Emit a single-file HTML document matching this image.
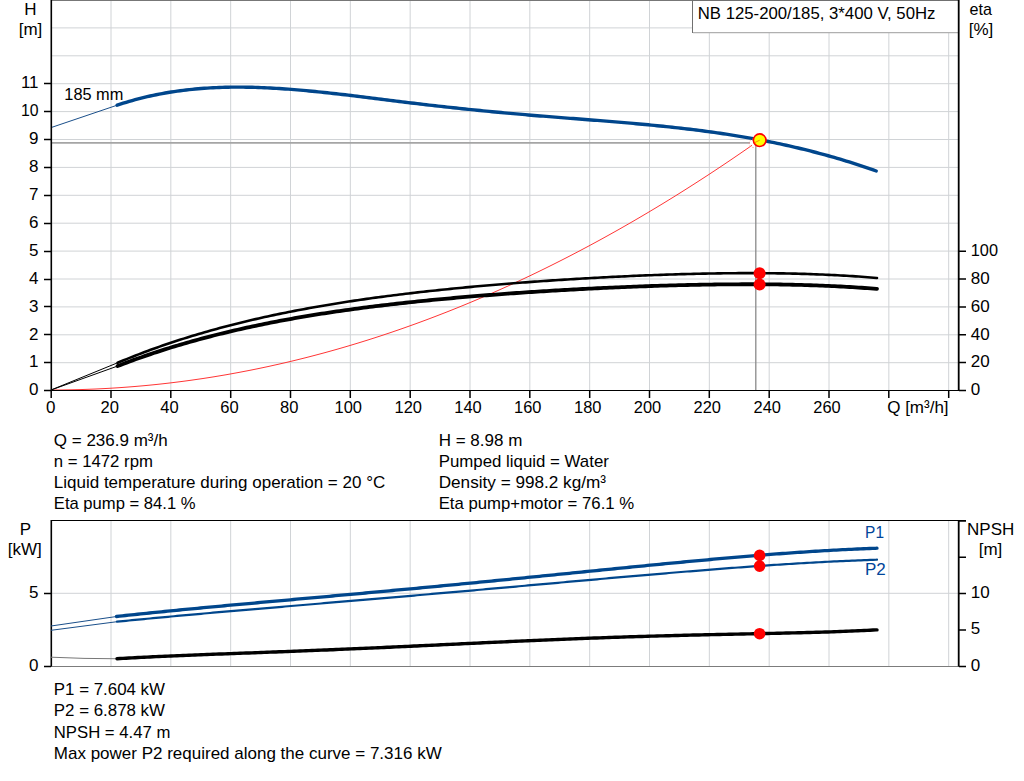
<!DOCTYPE html><html><head><meta charset="utf-8"><style>html,body{margin:0;padding:0;background:#fff;overflow:hidden}svg{display:block}text{font-family:"Liberation Sans",sans-serif;font-size:17px;fill:#000}</style></head><body>
<svg width="1024" height="781" viewBox="0 0 1024 781">
<rect width="1024" height="781" fill="#fff"/>
<path d="M111.00,0V390 M170.84,0V390 M230.67,0V390 M290.51,0V390 M350.34,0V390 M410.17,0V390 M470.01,0V390 M529.84,0V390 M589.68,0V390 M649.51,0V390 M709.34,0V390 M769.18,0V390 M829.01,0V390 M888.85,0V390 M948.68,0V390" stroke="#d0d3d6" stroke-width="1" fill="none"/>
<path d="M52,362.70H958 M52,334.80H958 M52,306.90H958 M52,279.00H958 M52,251.10H958 M52,223.20H958 M52,195.30H958 M52,167.40H958 M52,139.50H958 M52,111.60H958 M52,83.70H958 M52,55.80H958 M52,27.90H958" stroke="#d0d3d6" stroke-width="1" fill="none"/>
<path d="M111.00,521V666 M170.84,521V666 M230.67,521V666 M290.51,521V666 M350.34,521V666 M410.17,521V666 M470.01,521V666 M529.84,521V666 M589.68,521V666 M649.51,521V666 M709.34,521V666 M769.18,521V666 M829.01,521V666 M888.85,521V666 M948.68,521V666" stroke="#d0d3d6" stroke-width="1" fill="none"/>
<path d="M52,593.3H958" stroke="#d0d3d6" stroke-width="1" fill="none"/>
<path d="M51,0.5H959" stroke="#777" stroke-width="1"/>
<rect x="692.5" y="0.5" width="266" height="32" fill="#fff" stroke="#707070" stroke-width="1"/>
<path d="M693,32.6H958" stroke="#b0b0b0" stroke-width="1.2"/>
<path d="M51,142.9H750" stroke="#a5a5a5" stroke-width="1.6"/>
<path d="M755.8,145V390" stroke="#8a8a8a" stroke-width="1.3"/>
<path d="M51.0,390.00 L55.0,389.99 L59.0,389.97 L63.0,389.93 L67.0,389.87 L71.0,389.80 L75.0,389.71 L79.0,389.61 L83.0,389.49 L87.0,389.35 L91.0,389.20 L95.0,389.04 L99.0,388.85 L103.0,388.65 L107.0,388.44 L111.0,388.21 L115.0,387.96 L119.0,387.70 L123.0,387.42 L127.0,387.12 L131.0,386.81 L135.0,386.49 L139.0,386.14 L143.0,385.79 L147.0,385.41 L151.0,385.02 L155.0,384.61 L159.0,384.19 L163.0,383.75 L167.0,383.30 L171.0,382.83 L175.0,382.34 L179.0,381.84 L183.0,381.32 L187.0,380.79 L191.0,380.24 L195.0,379.67 L199.0,379.09 L203.0,378.50 L207.0,377.88 L211.0,377.25 L215.0,376.61 L219.0,375.95 L223.0,375.27 L227.0,374.58 L231.0,373.87 L235.0,373.14 L239.0,372.40 L243.0,371.64 L247.0,370.87 L251.0,370.08 L255.0,369.28 L259.0,368.46 L263.0,367.62 L267.0,366.77 L271.0,365.90 L275.0,365.01 L279.0,364.11 L283.0,363.20 L287.0,362.27 L291.0,361.32 L295.0,360.35 L299.0,359.37 L303.0,358.38 L307.0,357.37 L311.0,356.34 L315.0,355.29 L319.0,354.23 L323.0,353.16 L327.0,352.07 L331.0,350.96 L335.0,349.84 L339.0,348.70 L343.0,347.54 L347.0,346.37 L351.0,345.18 L355.0,343.98 L359.0,342.76 L363.0,341.53 L367.0,340.28 L371.0,339.01 L375.0,337.73 L379.0,336.43 L383.0,335.11 L387.0,333.78 L391.0,332.44 L395.0,331.07 L399.0,329.69 L403.0,328.30 L407.0,326.89 L411.0,325.46 L415.0,324.02 L419.0,322.56 L423.0,321.09 L427.0,319.60 L431.0,318.09 L435.0,316.57 L439.0,315.03 L443.0,313.48 L447.0,311.91 L451.0,310.33 L455.0,308.72 L459.0,307.11 L463.0,305.47 L467.0,303.82 L471.0,302.16 L475.0,300.48 L479.0,298.78 L483.0,297.07 L487.0,295.34 L491.0,293.59 L495.0,291.83 L499.0,290.06 L503.0,288.26 L507.0,286.46 L511.0,284.63 L515.0,282.79 L519.0,280.93 L523.0,279.06 L527.0,277.17 L531.0,275.27 L535.0,273.35 L539.0,271.41 L543.0,269.46 L547.0,267.49 L551.0,265.51 L555.0,263.51 L559.0,261.49 L563.0,259.46 L567.0,257.41 L571.0,255.35 L575.0,253.27 L579.0,251.18 L583.0,249.06 L587.0,246.94 L591.0,244.79 L595.0,242.63 L599.0,240.46 L603.0,238.27 L607.0,236.06 L611.0,233.84 L615.0,231.60 L619.0,229.35 L623.0,227.07 L627.0,224.79 L631.0,222.49 L635.0,220.17 L639.0,217.83 L643.0,215.48 L647.0,213.12 L651.0,210.73 L655.0,208.34 L659.0,205.92 L663.0,203.49 L667.0,201.04 L671.0,198.58 L675.0,196.11 L679.0,193.61 L683.0,191.10 L687.0,188.58 L691.0,186.03 L695.0,183.48 L699.0,180.90 L703.0,178.31 L707.0,175.71 L711.0,173.09 L715.0,170.45 L719.0,167.80 L723.0,165.13 L727.0,162.44 L731.0,159.74 L735.0,157.03 L739.0,154.29 L743.0,151.54 L747.0,148.78 L751.0,146.00 L752.0,145.30" stroke="#ff2a2a" stroke-width="0.95" fill="none"/>
<path d="M51,390L117.6,362.79" stroke="#000" stroke-width="1" fill="none"/>
<path d="M51,390L117.6,366.06" stroke="#000" stroke-width="1" fill="none"/>
<path d="M117.6,362.79 L120.6,361.54 L123.6,360.30 L126.6,359.08 L129.6,357.87 L132.6,356.68 L135.6,355.50 L138.6,354.34 L141.6,353.20 L144.6,352.06 L147.6,350.95 L150.6,349.84 L153.6,348.76 L156.6,347.68 L159.6,346.62 L162.6,345.57 L165.6,344.54 L168.6,343.52 L171.6,342.51 L174.6,341.52 L177.6,340.54 L180.6,339.57 L183.6,338.62 L186.6,337.67 L189.6,336.74 L192.6,335.83 L195.6,334.92 L198.6,334.03 L201.6,333.14 L204.6,332.27 L207.6,331.41 L210.6,330.56 L213.6,329.73 L216.6,328.90 L219.6,328.09 L222.6,327.28 L225.6,326.49 L228.6,325.71 L231.6,324.93 L234.6,324.17 L237.6,323.42 L240.6,322.68 L243.6,321.94 L246.6,321.22 L249.6,320.51 L252.6,319.80 L255.6,319.11 L258.6,318.42 L261.6,317.75 L264.6,317.08 L267.6,316.42 L270.6,315.77 L273.6,315.13 L276.6,314.50 L279.6,313.87 L282.6,313.26 L285.6,312.65 L288.6,312.05 L291.6,311.45 L294.6,310.87 L297.6,310.29 L300.6,309.72 L303.6,309.16 L306.6,308.61 L309.6,308.06 L312.6,307.52 L315.6,306.99 L318.6,306.46 L321.6,305.94 L324.6,305.43 L327.6,304.92 L330.6,304.43 L333.6,303.93 L336.6,303.45 L339.6,302.97 L342.6,302.49 L345.6,302.02 L348.6,301.56 L351.6,301.11 L354.6,300.66 L357.6,300.21 L360.6,299.77 L363.6,299.34 L366.6,298.91 L369.6,298.49 L372.6,298.07 L375.6,297.66 L378.6,297.26 L381.6,296.85 L384.6,296.46 L387.6,296.07 L390.6,295.68 L393.6,295.30 L396.6,294.92 L399.6,294.55 L402.6,294.18 L405.6,293.82 L408.6,293.46 L411.6,293.10 L414.6,292.75 L417.6,292.41 L420.6,292.07 L423.6,291.73 L426.6,291.39 L429.6,291.06 L432.6,290.74 L435.6,290.42 L438.6,290.10 L441.6,289.78 L444.6,289.47 L447.6,289.17 L450.6,288.86 L453.6,288.56 L456.6,288.27 L459.6,287.98 L462.6,287.69 L465.6,287.40 L468.6,287.12 L471.6,286.84 L474.6,286.56 L477.6,286.29 L480.6,286.02 L483.6,285.75 L486.6,285.49 L489.6,285.23 L492.6,284.97 L495.6,284.72 L498.6,284.47 L501.6,284.22 L504.6,283.97 L507.6,283.73 L510.6,283.49 L513.6,283.26 L516.6,283.02 L519.6,282.79 L522.6,282.56 L525.6,282.34 L528.6,282.11 L531.6,281.89 L534.6,281.67 L537.6,281.46 L540.6,281.25 L543.6,281.04 L546.6,280.83 L549.6,280.62 L552.6,280.42 L555.6,280.22 L558.6,280.02 L561.6,279.83 L564.6,279.64 L567.6,279.45 L570.6,279.26 L573.6,279.08 L576.6,278.90 L579.6,278.72 L582.6,278.54 L585.6,278.36 L588.6,278.19 L591.6,278.02 L594.6,277.86 L597.6,277.69 L600.6,277.53 L603.6,277.37 L606.6,277.21 L609.6,277.06 L612.6,276.91 L615.6,276.76 L618.6,276.61 L621.6,276.47 L624.6,276.33 L627.6,276.19 L630.6,276.05 L633.6,275.92 L636.6,275.79 L639.6,275.66 L642.6,275.54 L645.6,275.41 L648.6,275.30 L651.6,275.18 L654.6,275.06 L657.6,274.95 L660.6,274.85 L663.6,274.74 L666.6,274.64 L669.6,274.54 L672.6,274.44 L675.6,274.35 L678.6,274.26 L681.6,274.17 L684.6,274.09 L687.6,274.01 L690.6,273.93 L693.6,273.86 L696.6,273.79 L699.6,273.72 L702.6,273.65 L705.6,273.59 L708.6,273.54 L711.6,273.48 L714.6,273.43 L717.6,273.39 L720.6,273.35 L723.6,273.31 L726.6,273.27 L729.6,273.24 L732.6,273.21 L735.6,273.19 L738.6,273.17 L741.6,273.16 L744.6,273.15 L747.6,273.14 L750.6,273.14 L753.6,273.14 L756.6,273.15 L759.6,273.16 L762.6,273.18 L765.6,273.20 L768.6,273.22 L771.6,273.25 L774.6,273.29 L777.6,273.33 L780.6,273.37 L783.6,273.42 L786.6,273.47 L789.6,273.54 L792.6,273.60 L795.6,273.67 L798.6,273.75 L801.6,273.83 L804.6,273.92 L807.6,274.01 L810.6,274.11 L813.6,274.21 L816.6,274.33 L819.6,274.44 L822.6,274.57 L825.6,274.69 L828.6,274.83 L831.6,274.97 L834.6,275.12 L837.6,275.28 L840.6,275.44 L843.6,275.61 L846.6,275.78 L849.6,275.97 L852.6,276.16 L855.6,276.35 L858.6,276.56 L861.6,276.77 L864.6,276.99 L867.6,277.22 L870.6,277.45 L873.6,277.70 L876.6,277.95 L877.0,277.98" stroke="#000" stroke-width="2.6" fill="none" stroke-linecap="round"/>
<path d="M117.6,366.06 L120.6,364.90 L123.6,363.75 L126.6,362.62 L129.6,361.50 L132.6,360.40 L135.6,359.31 L138.6,358.24 L141.6,357.18 L144.6,356.13 L147.6,355.10 L150.6,354.08 L153.6,353.07 L156.6,352.08 L159.6,351.10 L162.6,350.13 L165.6,349.18 L168.6,348.24 L171.6,347.31 L174.6,346.39 L177.6,345.48 L180.6,344.59 L183.6,343.71 L186.6,342.84 L189.6,341.98 L192.6,341.14 L195.6,340.30 L198.6,339.48 L201.6,338.67 L204.6,337.87 L207.6,337.07 L210.6,336.29 L213.6,335.52 L216.6,334.76 L219.6,334.01 L222.6,333.28 L225.6,332.55 L228.6,331.83 L231.6,331.12 L234.6,330.42 L237.6,329.73 L240.6,329.04 L243.6,328.37 L246.6,327.71 L249.6,327.05 L252.6,326.41 L255.6,325.77 L258.6,325.14 L261.6,324.52 L264.6,323.91 L267.6,323.31 L270.6,322.72 L273.6,322.13 L276.6,321.55 L279.6,320.98 L282.6,320.41 L285.6,319.86 L288.6,319.31 L291.6,318.77 L294.6,318.24 L297.6,317.71 L300.6,317.19 L303.6,316.68 L306.6,316.17 L309.6,315.67 L312.6,315.18 L315.6,314.69 L318.6,314.21 L321.6,313.74 L324.6,313.28 L327.6,312.81 L330.6,312.36 L333.6,311.91 L336.6,311.47 L339.6,311.03 L342.6,310.60 L345.6,310.18 L348.6,309.76 L351.6,309.34 L354.6,308.93 L357.6,308.53 L360.6,308.13 L363.6,307.74 L366.6,307.35 L369.6,306.97 L372.6,306.59 L375.6,306.22 L378.6,305.85 L381.6,305.49 L384.6,305.13 L387.6,304.77 L390.6,304.42 L393.6,304.08 L396.6,303.74 L399.6,303.40 L402.6,303.07 L405.6,302.74 L408.6,302.41 L411.6,302.09 L414.6,301.78 L417.6,301.47 L420.6,301.16 L423.6,300.85 L426.6,300.55 L429.6,300.25 L432.6,299.96 L435.6,299.67 L438.6,299.38 L441.6,299.10 L444.6,298.82 L447.6,298.54 L450.6,298.27 L453.6,298.00 L456.6,297.73 L459.6,297.47 L462.6,297.21 L465.6,296.95 L468.6,296.70 L471.6,296.45 L474.6,296.20 L477.6,295.96 L480.6,295.71 L483.6,295.47 L486.6,295.24 L489.6,295.00 L492.6,294.77 L495.6,294.54 L498.6,294.32 L501.6,294.10 L504.6,293.88 L507.6,293.66 L510.6,293.44 L513.6,293.23 L516.6,293.02 L519.6,292.81 L522.6,292.61 L525.6,292.41 L528.6,292.21 L531.6,292.01 L534.6,291.81 L537.6,291.62 L540.6,291.43 L543.6,291.24 L546.6,291.06 L549.6,290.87 L552.6,290.69 L555.6,290.51 L558.6,290.34 L561.6,290.16 L564.6,289.99 L567.6,289.82 L570.6,289.66 L573.6,289.49 L576.6,289.33 L579.6,289.17 L582.6,289.01 L585.6,288.85 L588.6,288.70 L591.6,288.55 L594.6,288.40 L597.6,288.25 L600.6,288.11 L603.6,287.97 L606.6,287.83 L609.6,287.69 L612.6,287.55 L615.6,287.42 L618.6,287.29 L621.6,287.16 L624.6,287.04 L627.6,286.91 L630.6,286.79 L633.6,286.67 L636.6,286.56 L639.6,286.45 L642.6,286.33 L645.6,286.23 L648.6,286.12 L651.6,286.02 L654.6,285.92 L657.6,285.82 L660.6,285.72 L663.6,285.63 L666.6,285.54 L669.6,285.45 L672.6,285.37 L675.6,285.28 L678.6,285.21 L681.6,285.13 L684.6,285.06 L687.6,284.98 L690.6,284.92 L693.6,284.85 L696.6,284.79 L699.6,284.73 L702.6,284.68 L705.6,284.63 L708.6,284.58 L711.6,284.53 L714.6,284.49 L717.6,284.45 L720.6,284.42 L723.6,284.38 L726.6,284.36 L729.6,284.33 L732.6,284.31 L735.6,284.29 L738.6,284.28 L741.6,284.27 L744.6,284.26 L747.6,284.26 L750.6,284.26 L753.6,284.27 L756.6,284.28 L759.6,284.29 L762.6,284.31 L765.6,284.33 L768.6,284.36 L771.6,284.39 L774.6,284.43 L777.6,284.47 L780.6,284.51 L783.6,284.56 L786.6,284.62 L789.6,284.68 L792.6,284.74 L795.6,284.81 L798.6,284.89 L801.6,284.96 L804.6,285.05 L807.6,285.14 L810.6,285.24 L813.6,285.34 L816.6,285.44 L819.6,285.56 L822.6,285.67 L825.6,285.80 L828.6,285.93 L831.6,286.06 L834.6,286.20 L837.6,286.35 L840.6,286.51 L843.6,286.67 L846.6,286.83 L849.6,287.01 L852.6,287.19 L855.6,287.38 L858.6,287.57 L861.6,287.77 L864.6,287.98 L867.6,288.19 L870.6,288.42 L873.6,288.65 L876.6,288.88 L877.0,288.92" stroke="#000" stroke-width="3.8" fill="none" stroke-linecap="round"/>
<path d="M51,127.6L117.2,105.18" stroke="#1a4f8a" stroke-width="1" fill="none"/>
<path d="M117.2,105.18 L120.2,104.19 L123.2,103.23 L126.2,102.30 L129.2,101.41 L132.2,100.55 L135.2,99.72 L138.2,98.92 L141.2,98.15 L144.2,97.41 L147.2,96.70 L150.2,96.02 L153.2,95.36 L156.2,94.74 L159.2,94.14 L162.2,93.58 L165.2,93.03 L168.2,92.52 L171.2,92.03 L174.2,91.57 L177.2,91.13 L180.2,90.72 L183.2,90.34 L186.2,89.97 L189.2,89.64 L192.2,89.32 L195.2,89.03 L198.2,88.76 L201.2,88.51 L204.2,88.29 L207.2,88.08 L210.2,87.90 L213.2,87.74 L216.2,87.60 L219.2,87.47 L222.2,87.37 L225.2,87.29 L228.2,87.22 L231.2,87.17 L234.2,87.14 L237.2,87.13 L240.2,87.14 L243.2,87.16 L246.2,87.19 L249.2,87.25 L252.2,87.31 L255.2,87.40 L258.2,87.49 L261.2,87.60 L264.2,87.73 L267.2,87.87 L270.2,88.02 L273.2,88.18 L276.2,88.35 L279.2,88.54 L282.2,88.74 L285.2,88.94 L288.2,89.16 L291.2,89.39 L294.2,89.63 L297.2,89.87 L300.2,90.13 L303.2,90.39 L306.2,90.67 L309.2,90.95 L312.2,91.23 L315.2,91.53 L318.2,91.83 L321.2,92.14 L324.2,92.46 L327.2,92.78 L330.2,93.10 L333.2,93.44 L336.2,93.77 L339.2,94.12 L342.2,94.46 L345.2,94.81 L348.2,95.17 L351.2,95.53 L354.2,95.89 L357.2,96.25 L360.2,96.62 L363.2,96.99 L366.2,97.36 L369.2,97.73 L372.2,98.11 L375.2,98.48 L378.2,98.86 L381.2,99.24 L384.2,99.61 L387.2,99.99 L390.2,100.36 L393.2,100.74 L396.2,101.11 L399.2,101.49 L402.2,101.86 L405.2,102.22 L408.2,102.59 L411.2,102.95 L414.2,103.31 L417.2,103.67 L420.2,104.03 L423.2,104.38 L426.2,104.73 L429.2,105.07 L432.2,105.42 L435.2,105.76 L438.2,106.10 L441.2,106.43 L444.2,106.76 L447.2,107.09 L450.2,107.42 L453.2,107.74 L456.2,108.06 L459.2,108.38 L462.2,108.70 L465.2,109.01 L468.2,109.32 L471.2,109.62 L474.2,109.93 L477.2,110.23 L480.2,110.53 L483.2,110.82 L486.2,111.12 L489.2,111.41 L492.2,111.70 L495.2,111.98 L498.2,112.26 L501.2,112.54 L504.2,112.82 L507.2,113.09 L510.2,113.37 L513.2,113.63 L516.2,113.90 L519.2,114.16 L522.2,114.43 L525.2,114.68 L528.2,114.94 L531.2,115.19 L534.2,115.44 L537.2,115.69 L540.2,115.94 L543.2,116.18 L546.2,116.42 L549.2,116.66 L552.2,116.90 L555.2,117.14 L558.2,117.38 L561.2,117.61 L564.2,117.85 L567.2,118.08 L570.2,118.32 L573.2,118.55 L576.2,118.78 L579.2,119.02 L582.2,119.25 L585.2,119.49 L588.2,119.72 L591.2,119.96 L594.2,120.19 L597.2,120.43 L600.2,120.67 L603.2,120.91 L606.2,121.15 L609.2,121.40 L612.2,121.64 L615.2,121.89 L618.2,122.14 L621.2,122.39 L624.2,122.65 L627.2,122.91 L630.2,123.17 L633.2,123.43 L636.2,123.70 L639.2,123.97 L642.2,124.25 L645.2,124.53 L648.2,124.81 L651.2,125.10 L654.2,125.39 L657.2,125.69 L660.2,125.99 L663.2,126.30 L666.2,126.61 L669.2,126.93 L672.2,127.25 L675.2,127.58 L678.2,127.91 L681.2,128.25 L684.2,128.59 L687.2,128.95 L690.2,129.31 L693.2,129.67 L696.2,130.04 L699.2,130.42 L702.2,130.81 L705.2,131.20 L708.2,131.60 L711.2,132.01 L714.2,132.43 L717.2,132.86 L720.2,133.29 L723.2,133.73 L726.2,134.18 L729.2,134.64 L732.2,135.11 L735.2,135.59 L738.2,136.07 L741.2,136.57 L744.2,137.07 L747.2,137.59 L750.2,138.11 L753.2,138.65 L756.2,139.20 L759.2,139.75 L762.2,140.32 L765.2,140.90 L768.2,141.49 L771.2,142.09 L774.2,142.70 L777.2,143.32 L780.2,143.95 L783.2,144.60 L786.2,145.26 L789.2,145.93 L792.2,146.61 L795.2,147.30 L798.2,148.01 L801.2,148.73 L804.2,149.46 L807.2,150.20 L810.2,150.96 L813.2,151.73 L816.2,152.51 L819.2,153.30 L822.2,154.11 L825.2,154.93 L828.2,155.76 L831.2,156.61 L834.2,157.47 L837.2,158.35 L840.2,159.24 L843.2,160.14 L846.2,161.05 L849.2,161.99 L852.2,162.93 L855.2,163.89 L858.2,164.86 L861.2,165.85 L864.2,166.85 L867.2,167.87 L870.2,168.90 L873.2,169.95 L876.2,171.01" stroke="#00468c" stroke-width="3.4" fill="none" stroke-linecap="round"/>
<circle cx="759.6" cy="273.2" r="6" fill="#ff0000"/>
<circle cx="759.6" cy="284.4" r="6" fill="#ff0000"/>
<circle cx="753.3" cy="143.3" r="4.2" fill="none" stroke="#ff9090" stroke-width="0.8" stroke-dasharray="1.5 1.5"/>
<circle cx="759.7" cy="140.2" r="6.3" fill="#ffff00" stroke="#ff0000" stroke-width="1.6"/>
<path d="M753.5,143.2L759.7,140.2" stroke="#ff5000" stroke-opacity="0.7" stroke-width="1"/>
<path d="M51.3,0V391" stroke="#000" stroke-width="1.6"/>
<path d="M958.7,0V391" stroke="#000" stroke-width="1.8"/>
<path d="M44,390.5H966" stroke="#000" stroke-width="1.2"/>
<path d="M44,390.5H51 M44,362.5H51 M44,334.5H51 M44,306.5H51 M44,279.5H51 M44,251.5H51 M44,223.5H51 M44,195.5H51 M44,167.5H51 M44,139.5H51 M44,111.5H51 M44,83.5H51 M51.2,390V398 M111.0,390V398 M170.8,390V398 M230.7,390V398 M290.5,390V398 M350.3,390V398 M410.2,390V398 M470.0,390V398 M529.8,390V398 M589.7,390V398 M649.5,390V398 M709.3,390V398 M769.2,390V398 M829.0,390V398 M888.8,390V398 M948.7,390V398 M959,390.5H966 M959,362.6H966 M959,334.8H966 M959,306.9H966 M959,279.1H966 M959,251.2H966" stroke="#000" stroke-width="1.5"/>
<path d="M51,520.5H966" stroke="#000" stroke-width="1.2"/>
<path d="M51,666.5H959" stroke="#7c7c7c" stroke-width="1"/>
<path d="M51.3,520V666.5" stroke="#000" stroke-width="1.6"/>
<path d="M958.7,520V666.5" stroke="#000" stroke-width="1.8"/>
<path d="M44,666.5H51 M44,593.5H51 M959,666.4H966 M959,630.0H966 M959,593.6H966 M959,557.3H966 M959,520.9H966" stroke="#000" stroke-width="1.5"/>
<path d="M51,626L117,616.44" stroke="#1a4f8a" stroke-width="1" fill="none"/>
<path d="M51,630.3L117,621.70" stroke="#1a4f8a" stroke-width="1" fill="none"/>
<path d="M51,657.2Q84,658.8 117,658.75" stroke="#777" stroke-width="1" fill="none"/>
<path d="M116.5,616.49 L119.5,616.16 L122.5,615.84 L125.5,615.51 L128.5,615.19 L131.5,614.87 L134.5,614.56 L137.5,614.24 L140.5,613.93 L143.5,613.62 L146.5,613.31 L149.5,613.00 L152.5,612.70 L155.5,612.39 L158.5,612.09 L161.5,611.79 L164.5,611.49 L167.5,611.19 L170.5,610.89 L173.5,610.60 L176.5,610.31 L179.5,610.01 L182.5,609.72 L185.5,609.43 L188.5,609.14 L191.5,608.86 L194.5,608.57 L197.5,608.28 L200.5,608.00 L203.5,607.72 L206.5,607.43 L209.5,607.15 L212.5,606.87 L215.5,606.59 L218.5,606.31 L221.5,606.03 L224.5,605.76 L227.5,605.48 L230.5,605.20 L233.5,604.93 L236.5,604.65 L239.5,604.38 L242.5,604.11 L245.5,603.83 L248.5,603.56 L251.5,603.29 L254.5,603.02 L257.5,602.74 L260.5,602.47 L263.5,602.20 L266.5,601.93 L269.5,601.66 L272.5,601.39 L275.5,601.12 L278.5,600.85 L281.5,600.58 L284.5,600.31 L287.5,600.04 L290.5,599.77 L293.5,599.50 L296.5,599.23 L299.5,598.96 L302.5,598.69 L305.5,598.42 L308.5,598.16 L311.5,597.89 L314.5,597.62 L317.5,597.35 L320.5,597.08 L323.5,596.81 L326.5,596.54 L329.5,596.27 L332.5,596.00 L335.5,595.72 L338.5,595.45 L341.5,595.18 L344.5,594.91 L347.5,594.64 L350.5,594.37 L353.5,594.09 L356.5,593.82 L359.5,593.55 L362.5,593.27 L365.5,593.00 L368.5,592.72 L371.5,592.45 L374.5,592.17 L377.5,591.90 L380.5,591.62 L383.5,591.35 L386.5,591.07 L389.5,590.79 L392.5,590.51 L395.5,590.23 L398.5,589.96 L401.5,589.68 L404.5,589.40 L407.5,589.12 L410.5,588.83 L413.5,588.55 L416.5,588.27 L419.5,587.99 L422.5,587.71 L425.5,587.42 L428.5,587.14 L431.5,586.85 L434.5,586.57 L437.5,586.28 L440.5,586.00 L443.5,585.71 L446.5,585.42 L449.5,585.13 L452.5,584.85 L455.5,584.56 L458.5,584.27 L461.5,583.98 L464.5,583.69 L467.5,583.40 L470.5,583.11 L473.5,582.81 L476.5,582.52 L479.5,582.23 L482.5,581.94 L485.5,581.64 L488.5,581.35 L491.5,581.05 L494.5,580.76 L497.5,580.46 L500.5,580.17 L503.5,579.87 L506.5,579.57 L509.5,579.28 L512.5,578.98 L515.5,578.68 L518.5,578.38 L521.5,578.08 L524.5,577.78 L527.5,577.48 L530.5,577.18 L533.5,576.88 L536.5,576.58 L539.5,576.28 L542.5,575.98 L545.5,575.68 L548.5,575.38 L551.5,575.08 L554.5,574.78 L557.5,574.48 L560.5,574.17 L563.5,573.87 L566.5,573.57 L569.5,573.27 L572.5,572.97 L575.5,572.66 L578.5,572.36 L581.5,572.06 L584.5,571.76 L587.5,571.46 L590.5,571.15 L593.5,570.85 L596.5,570.55 L599.5,570.25 L602.5,569.95 L605.5,569.65 L608.5,569.35 L611.5,569.04 L614.5,568.74 L617.5,568.44 L620.5,568.15 L623.5,567.85 L626.5,567.55 L629.5,567.25 L632.5,566.95 L635.5,566.65 L638.5,566.36 L641.5,566.06 L644.5,565.77 L647.5,565.47 L650.5,565.18 L653.5,564.88 L656.5,564.59 L659.5,564.30 L662.5,564.01 L665.5,563.72 L668.5,563.43 L671.5,563.14 L674.5,562.85 L677.5,562.57 L680.5,562.28 L683.5,562.00 L686.5,561.71 L689.5,561.43 L692.5,561.15 L695.5,560.87 L698.5,560.59 L701.5,560.32 L704.5,560.04 L707.5,559.77 L710.5,559.49 L713.5,559.22 L716.5,558.95 L719.5,558.69 L722.5,558.42 L725.5,558.16 L728.5,557.89 L731.5,557.63 L734.5,557.37 L737.5,557.12 L740.5,556.86 L743.5,556.61 L746.5,556.36 L749.5,556.11 L752.5,555.86 L755.5,555.62 L758.5,555.37 L761.5,555.13 L764.5,554.89 L767.5,554.66 L770.5,554.43 L773.5,554.20 L776.5,553.97 L779.5,553.74 L782.5,553.52 L785.5,553.30 L788.5,553.08 L791.5,552.87 L794.5,552.66 L797.5,552.45 L800.5,552.24 L803.5,552.04 L806.5,551.84 L809.5,551.65 L812.5,551.45 L815.5,551.26 L818.5,551.08 L821.5,550.90 L824.5,550.72 L827.5,550.54 L830.5,550.37 L833.5,550.20 L836.5,550.04 L839.5,549.88 L842.5,549.72 L845.5,549.57 L848.5,549.42 L851.5,549.28 L854.5,549.14 L857.5,549.00 L860.5,548.87 L863.5,548.74 L866.5,548.62 L869.5,548.50 L872.5,548.39 L875.5,548.28 L877.0,548.22" stroke="#00468c" stroke-width="3.3" fill="none" stroke-linecap="round"/>
<path d="M117.0,621.70 L120.0,621.40 L123.0,621.10 L126.0,620.80 L129.0,620.50 L132.0,620.21 L135.0,619.92 L138.0,619.62 L141.0,619.33 L144.0,619.04 L147.0,618.76 L150.0,618.47 L153.0,618.19 L156.0,617.90 L159.0,617.62 L162.0,617.34 L165.0,617.06 L168.0,616.78 L171.0,616.50 L174.0,616.23 L177.0,615.95 L180.0,615.68 L183.0,615.40 L186.0,615.13 L189.0,614.86 L192.0,614.59 L195.0,614.32 L198.0,614.05 L201.0,613.79 L204.0,613.52 L207.0,613.25 L210.0,612.99 L213.0,612.72 L216.0,612.46 L219.0,612.20 L222.0,611.93 L225.0,611.67 L228.0,611.41 L231.0,611.15 L234.0,610.89 L237.0,610.63 L240.0,610.37 L243.0,610.11 L246.0,609.85 L249.0,609.59 L252.0,609.34 L255.0,609.08 L258.0,608.82 L261.0,608.57 L264.0,608.31 L267.0,608.05 L270.0,607.80 L273.0,607.54 L276.0,607.29 L279.0,607.03 L282.0,606.78 L285.0,606.52 L288.0,606.27 L291.0,606.02 L294.0,605.76 L297.0,605.51 L300.0,605.25 L303.0,605.00 L306.0,604.75 L309.0,604.49 L312.0,604.24 L315.0,603.99 L318.0,603.73 L321.0,603.48 L324.0,603.22 L327.0,602.97 L330.0,602.72 L333.0,602.46 L336.0,602.21 L339.0,601.95 L342.0,601.70 L345.0,601.44 L348.0,601.19 L351.0,600.93 L354.0,600.68 L357.0,600.42 L360.0,600.17 L363.0,599.91 L366.0,599.66 L369.0,599.40 L372.0,599.15 L375.0,598.89 L378.0,598.63 L381.0,598.38 L384.0,598.12 L387.0,597.86 L390.0,597.60 L393.0,597.35 L396.0,597.09 L399.0,596.83 L402.0,596.57 L405.0,596.31 L408.0,596.05 L411.0,595.79 L414.0,595.53 L417.0,595.27 L420.0,595.01 L423.0,594.75 L426.0,594.49 L429.0,594.23 L432.0,593.97 L435.0,593.71 L438.0,593.45 L441.0,593.18 L444.0,592.92 L447.0,592.66 L450.0,592.39 L453.0,592.13 L456.0,591.87 L459.0,591.60 L462.0,591.34 L465.0,591.07 L468.0,590.81 L471.0,590.54 L474.0,590.28 L477.0,590.01 L480.0,589.75 L483.0,589.48 L486.0,589.21 L489.0,588.95 L492.0,588.68 L495.0,588.41 L498.0,588.15 L501.0,587.88 L504.0,587.61 L507.0,587.34 L510.0,587.08 L513.0,586.81 L516.0,586.54 L519.0,586.27 L522.0,586.00 L525.0,585.73 L528.0,585.47 L531.0,585.20 L534.0,584.93 L537.0,584.66 L540.0,584.39 L543.0,584.12 L546.0,583.85 L549.0,583.58 L552.0,583.31 L555.0,583.04 L558.0,582.78 L561.0,582.51 L564.0,582.24 L567.0,581.97 L570.0,581.70 L573.0,581.43 L576.0,581.16 L579.0,580.89 L582.0,580.63 L585.0,580.36 L588.0,580.09 L591.0,579.82 L594.0,579.56 L597.0,579.29 L600.0,579.02 L603.0,578.76 L606.0,578.49 L609.0,578.22 L612.0,577.96 L615.0,577.69 L618.0,577.43 L621.0,577.17 L624.0,576.90 L627.0,576.64 L630.0,576.38 L633.0,576.11 L636.0,575.85 L639.0,575.59 L642.0,575.33 L645.0,575.07 L648.0,574.81 L651.0,574.56 L654.0,574.30 L657.0,574.04 L660.0,573.79 L663.0,573.53 L666.0,573.28 L669.0,573.02 L672.0,572.77 L675.0,572.52 L678.0,572.27 L681.0,572.02 L684.0,571.77 L687.0,571.52 L690.0,571.28 L693.0,571.03 L696.0,570.79 L699.0,570.55 L702.0,570.30 L705.0,570.06 L708.0,569.82 L711.0,569.59 L714.0,569.35 L717.0,569.12 L720.0,568.88 L723.0,568.65 L726.0,568.42 L729.0,568.19 L732.0,567.96 L735.0,567.74 L738.0,567.51 L741.0,567.29 L744.0,567.07 L747.0,566.85 L750.0,566.64 L753.0,566.42 L756.0,566.21 L759.0,566.00 L762.0,565.79 L765.0,565.58 L768.0,565.37 L771.0,565.17 L774.0,564.97 L777.0,564.77 L780.0,564.57 L783.0,564.38 L786.0,564.19 L789.0,564.00 L792.0,563.81 L795.0,563.63 L798.0,563.45 L801.0,563.27 L804.0,563.09 L807.0,562.91 L810.0,562.74 L813.0,562.57 L816.0,562.41 L819.0,562.24 L822.0,562.08 L825.0,561.93 L828.0,561.77 L831.0,561.62 L834.0,561.47 L837.0,561.33 L840.0,561.19 L843.0,561.05 L846.0,560.91 L849.0,560.78 L852.0,560.65 L855.0,560.53 L858.0,560.40 L861.0,560.29 L864.0,560.17 L867.0,560.06 L870.0,559.95 L873.0,559.85 L876.0,559.75 L877.0,559.72" stroke="#00468c" stroke-width="2.2" fill="none" stroke-linecap="round"/>
<path d="M117.0,658.75 L120.0,658.56 L123.0,658.39 L126.0,658.21 L129.0,658.04 L132.0,657.88 L135.0,657.71 L138.0,657.55 L141.0,657.40 L144.0,657.24 L147.0,657.09 L150.0,656.94 L153.0,656.80 L156.0,656.66 L159.0,656.52 L162.0,656.38 L165.0,656.24 L168.0,656.11 L171.0,655.98 L174.0,655.85 L177.0,655.72 L180.0,655.59 L183.0,655.47 L186.0,655.35 L189.0,655.22 L192.0,655.10 L195.0,654.98 L198.0,654.86 L201.0,654.75 L204.0,654.63 L207.0,654.52 L210.0,654.40 L213.0,654.29 L216.0,654.17 L219.0,654.06 L222.0,653.95 L225.0,653.83 L228.0,653.72 L231.0,653.61 L234.0,653.50 L237.0,653.39 L240.0,653.28 L243.0,653.17 L246.0,653.06 L249.0,652.94 L252.0,652.83 L255.0,652.72 L258.0,652.61 L261.0,652.50 L264.0,652.39 L267.0,652.27 L270.0,652.16 L273.0,652.05 L276.0,651.94 L279.0,651.82 L282.0,651.71 L285.0,651.59 L288.0,651.48 L291.0,651.36 L294.0,651.25 L297.0,651.13 L300.0,651.01 L303.0,650.89 L306.0,650.77 L309.0,650.66 L312.0,650.54 L315.0,650.41 L318.0,650.29 L321.0,650.17 L324.0,650.05 L327.0,649.93 L330.0,649.80 L333.0,649.68 L336.0,649.55 L339.0,649.42 L342.0,649.30 L345.0,649.17 L348.0,649.04 L351.0,648.91 L354.0,648.78 L357.0,648.65 L360.0,648.52 L363.0,648.39 L366.0,648.26 L369.0,648.13 L372.0,647.99 L375.0,647.86 L378.0,647.72 L381.0,647.59 L384.0,647.45 L387.0,647.32 L390.0,647.18 L393.0,647.04 L396.0,646.91 L399.0,646.77 L402.0,646.63 L405.0,646.49 L408.0,646.35 L411.0,646.21 L414.0,646.07 L417.0,645.93 L420.0,645.79 L423.0,645.65 L426.0,645.50 L429.0,645.36 L432.0,645.22 L435.0,645.08 L438.0,644.94 L441.0,644.79 L444.0,644.65 L447.0,644.51 L450.0,644.37 L453.0,644.22 L456.0,644.08 L459.0,643.94 L462.0,643.80 L465.0,643.65 L468.0,643.51 L471.0,643.37 L474.0,643.23 L477.0,643.09 L480.0,642.94 L483.0,642.80 L486.0,642.66 L489.0,642.52 L492.0,642.38 L495.0,642.24 L498.0,642.10 L501.0,641.97 L504.0,641.83 L507.0,641.69 L510.0,641.55 L513.0,641.42 L516.0,641.28 L519.0,641.14 L522.0,641.01 L525.0,640.88 L528.0,640.74 L531.0,640.61 L534.0,640.48 L537.0,640.35 L540.0,640.22 L543.0,640.09 L546.0,639.96 L549.0,639.83 L552.0,639.71 L555.0,639.58 L558.0,639.46 L561.0,639.33 L564.0,639.21 L567.0,639.09 L570.0,638.97 L573.0,638.85 L576.0,638.73 L579.0,638.62 L582.0,638.50 L585.0,638.38 L588.0,638.27 L591.0,638.16 L594.0,638.05 L597.0,637.94 L600.0,637.83 L603.0,637.72 L606.0,637.62 L609.0,637.51 L612.0,637.41 L615.0,637.30 L618.0,637.20 L621.0,637.10 L624.0,637.00 L627.0,636.91 L630.0,636.81 L633.0,636.72 L636.0,636.62 L639.0,636.53 L642.0,636.44 L645.0,636.35 L648.0,636.26 L651.0,636.17 L654.0,636.09 L657.0,636.00 L660.0,635.92 L663.0,635.84 L666.0,635.76 L669.0,635.68 L672.0,635.60 L675.0,635.52 L678.0,635.44 L681.0,635.37 L684.0,635.29 L687.0,635.22 L690.0,635.15 L693.0,635.07 L696.0,635.00 L699.0,634.93 L702.0,634.87 L705.0,634.80 L708.0,634.73 L711.0,634.66 L714.0,634.60 L717.0,634.53 L720.0,634.47 L723.0,634.40 L726.0,634.34 L729.0,634.28 L732.0,634.21 L735.0,634.15 L738.0,634.09 L741.0,634.02 L744.0,633.96 L747.0,633.90 L750.0,633.84 L753.0,633.78 L756.0,633.71 L759.0,633.65 L762.0,633.59 L765.0,633.52 L768.0,633.46 L771.0,633.40 L774.0,633.33 L777.0,633.26 L780.0,633.20 L783.0,633.13 L786.0,633.06 L789.0,632.99 L792.0,632.92 L795.0,632.85 L798.0,632.77 L801.0,632.70 L804.0,632.62 L807.0,632.54 L810.0,632.46 L813.0,632.38 L816.0,632.29 L819.0,632.20 L822.0,632.11 L825.0,632.02 L828.0,631.93 L831.0,631.83 L834.0,631.73 L837.0,631.62 L840.0,631.51 L843.0,631.40 L846.0,631.29 L849.0,631.17 L852.0,631.05 L855.0,630.92 L858.0,630.79 L861.0,630.65 L864.0,630.51 L867.0,630.37 L870.0,630.22 L873.0,630.06 L876.0,629.90 L877.0,629.85" stroke="#000" stroke-width="3.4" fill="none" stroke-linecap="round"/>
<circle cx="759.6" cy="555.4" r="5.8" fill="#ff0000"/>
<circle cx="759.6" cy="566.1" r="5.8" fill="#ff0000"/>
<circle cx="759.6" cy="633.7" r="5.8" fill="#ff0000"/>
<text x="30.5" y="14.7" text-anchor="middle">H</text>
<text x="30.5" y="34.6" text-anchor="middle">[m]</text>
<text x="969.5" y="14.8" textLength="22.4" lengthAdjust="spacingAndGlyphs">eta</text>
<text x="981" y="34.6" text-anchor="middle">[%]</text>
<text x="64.3" y="100.4" textLength="59.0" lengthAdjust="spacingAndGlyphs">185 mm</text>
<text x="697.75" y="18.75" textLength="237.7" lengthAdjust="spacingAndGlyphs">NB 125-200/185, 3*400 V, 50Hz</text>
<text x="38.5" y="395.3" text-anchor="end">0</text>
<text x="38.5" y="367.4" text-anchor="end">1</text>
<text x="38.5" y="339.5" text-anchor="end">2</text>
<text x="38.5" y="311.6" text-anchor="end">3</text>
<text x="38.5" y="283.7" text-anchor="end">4</text>
<text x="38.5" y="255.8" text-anchor="end">5</text>
<text x="38.5" y="227.9" text-anchor="end">6</text>
<text x="38.5" y="200.0" text-anchor="end">7</text>
<text x="38.5" y="172.1" text-anchor="end">8</text>
<text x="38.5" y="144.2" text-anchor="end">9</text>
<text x="38.5" y="116.3" text-anchor="end" textLength="17.6" lengthAdjust="spacingAndGlyphs">10</text>
<text x="38.5" y="88.4" text-anchor="end" textLength="17.6" lengthAdjust="spacingAndGlyphs">11</text>
<text x="50.8" y="413" text-anchor="middle">0</text>
<text x="109.7" y="413" text-anchor="middle" textLength="18.4" lengthAdjust="spacingAndGlyphs">20</text>
<text x="169.5" y="413" text-anchor="middle" textLength="18.4" lengthAdjust="spacingAndGlyphs">40</text>
<text x="229.4" y="413" text-anchor="middle" textLength="18.4" lengthAdjust="spacingAndGlyphs">60</text>
<text x="289.2" y="413" text-anchor="middle" textLength="18.4" lengthAdjust="spacingAndGlyphs">80</text>
<text x="348.3" y="413" text-anchor="middle" textLength="27.4" lengthAdjust="spacingAndGlyphs">100</text>
<text x="408.2" y="413" text-anchor="middle" textLength="27.4" lengthAdjust="spacingAndGlyphs">120</text>
<text x="468.0" y="413" text-anchor="middle" textLength="27.4" lengthAdjust="spacingAndGlyphs">140</text>
<text x="527.8" y="413" text-anchor="middle" textLength="27.4" lengthAdjust="spacingAndGlyphs">160</text>
<text x="587.7" y="413" text-anchor="middle" textLength="27.4" lengthAdjust="spacingAndGlyphs">180</text>
<text x="647.5" y="413" text-anchor="middle" textLength="27.4" lengthAdjust="spacingAndGlyphs">200</text>
<text x="707.3" y="413" text-anchor="middle" textLength="27.4" lengthAdjust="spacingAndGlyphs">220</text>
<text x="767.2" y="413" text-anchor="middle" textLength="27.4" lengthAdjust="spacingAndGlyphs">240</text>
<text x="827.0" y="413" text-anchor="middle" textLength="27.4" lengthAdjust="spacingAndGlyphs">260</text>
<text x="887.2" y="413">Q [m³/h]</text>
<text x="970.8" y="395.2">0</text>
<text x="970.8" y="367.3">20</text>
<text x="970.8" y="339.5">40</text>
<text x="970.8" y="311.6">60</text>
<text x="970.8" y="283.8">80</text>
<text x="970.8" y="255.9" textLength="27.2" lengthAdjust="spacingAndGlyphs">100</text>
<text x="53.8" y="446.1">Q = 236.9 m³/h</text>
<text x="53.8" y="466.9" textLength="99.1" lengthAdjust="spacingAndGlyphs">n = 1472 rpm</text>
<text x="53.8" y="488.3">Liquid temperature during operation = 20 °C</text>
<text x="53.8" y="509.4" textLength="141.8" lengthAdjust="spacingAndGlyphs">Eta pump = 84.1 %</text>
<text x="438.7" y="446.1">H = 8.98 m</text>
<text x="438.7" y="466.9" textLength="170.2" lengthAdjust="spacingAndGlyphs">Pumped liquid = Water</text>
<text x="438.7" y="488.3" textLength="167.3" lengthAdjust="spacingAndGlyphs">Density = 998.2 kg/m³</text>
<text x="438.7" y="509.4" textLength="195.5" lengthAdjust="spacingAndGlyphs">Eta pump+motor = 76.1 %</text>
<text x="25.3" y="534.8" text-anchor="middle">P</text>
<text x="24.7" y="554.7" text-anchor="middle">[kW]</text>
<text x="990.7" y="534.8" text-anchor="middle">NPSH</text>
<text x="990.5" y="554.7" text-anchor="middle">[m]</text>
<text x="38.5" y="671.2" text-anchor="end">0</text>
<text x="38.5" y="598.2" text-anchor="end">5</text>
<text x="970.8" y="670.8">0</text>
<text x="970.8" y="634.4">5</text>
<text x="970.8" y="598.0">10</text>
<text x="865.1" y="537.8" style="fill:#00459a" textLength="18.9" lengthAdjust="spacingAndGlyphs">P1</text>
<text x="865" y="574.6" style="fill:#00459a">P2</text>
<text x="53.8" y="694.5" textLength="111.2" lengthAdjust="spacingAndGlyphs">P1 = 7.604 kW</text>
<text x="53.8" y="715.6" textLength="111.2" lengthAdjust="spacingAndGlyphs">P2 = 6.878 kW</text>
<text x="53.8" y="737.5" textLength="116.5" lengthAdjust="spacingAndGlyphs">NPSH = 4.47 m</text>
<text x="53.8" y="758.6">Max power P2 required along the curve = 7.316 kW</text>
</svg></body></html>
